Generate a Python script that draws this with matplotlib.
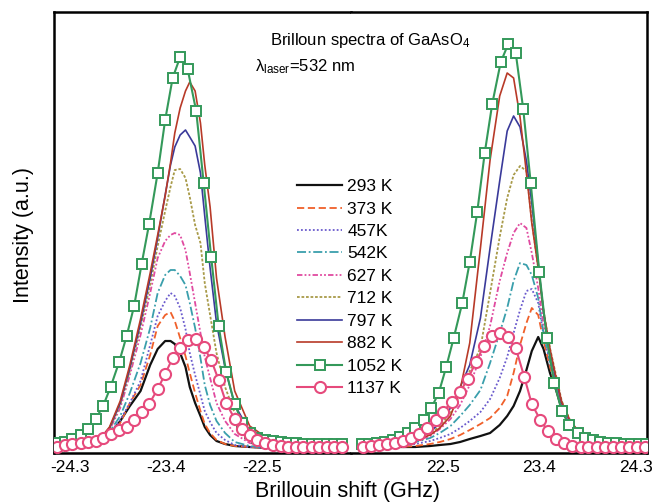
import matplotlib
matplotlib.use("Agg")
from matplotlib import pyplot as plt

plt.rcParams['font.family'] = ['Liberation Sans', 'DejaVu Sans']
plt.rcParams['mathtext.fontset'] = 'custom'
plt.rcParams['mathtext.rm'] = 'Liberation Sans'
plt.rcParams['mathtext.it'] = 'Liberation Sans:italic'

# Brillouin shift grid (GHz) used by the line spectra, anti-Stokes and Stokes side
x_left = [-24.42, -24.21, -24.02, -23.93, -23.83, -23.74, -23.64, -23.55, -23.48, -23.41,
          -23.36, -23.32, -23.27, -23.22, -23.18, -23.13, -23.08, -23.04, -22.99, -22.93,
          -22.85, -22.76, -22.62, -22.43, -22.15, -21.75]
x_right = [21.74, 21.91, 22.10, 22.24, 22.38, 22.47, 22.57, 22.66, 22.75, 22.85,
           22.94, 23.03, 23.10, 23.16, 23.22, 23.28, 23.33, 23.39, 23.44, 23.50,
           23.56, 23.61, 23.69, 23.78, 23.92, 24.11, 24.39]

labels = ["293 K", "373 K", "457K", "542K", "627 K", "712 K", "797 K", "882 K"]

I_left = [
    [5, 7, 11, 18, 32, 47, 62, 88, 104, 112, 112, 109, 100, 86, 66, 50, 37, 26, 18, 12, 9, 7, 6, 5, 5, 5],
    [5, 7, 12, 19, 30, 50, 68, 98, 127, 138, 141, 132, 115, 97, 80, 60, 42, 29, 20, 13, 9, 7, 6, 5, 5, 5],
    [5, 7, 12, 20, 33, 50, 72, 108, 137, 152, 160, 157, 145, 124, 100, 78, 58, 42, 31, 20, 13, 8, 6, 5, 5, 5],
    [5, 8, 13, 21, 37, 60, 90, 125, 160, 178, 183, 183, 177, 168, 150, 125, 95, 68, 48, 32, 20, 11, 7, 5, 5, 5],
    [5, 8, 13, 23, 45, 78, 118, 160, 195, 212, 218, 220, 218, 203, 180, 150, 120, 96, 75, 50, 32, 19, 10, 6, 5, 5],
    [5, 8, 13, 24, 48, 82, 126, 168, 207, 242, 266, 283, 284, 275, 256, 228, 210, 170, 138, 100, 66, 40, 20, 10, 6, 5],
    [5, 8, 14, 25, 50, 85, 130, 175, 215, 258, 288, 306, 318, 323, 316, 307, 280, 237, 185, 130, 85, 48, 22, 11, 6, 5],
    [5, 8, 14, 26, 52, 88, 134, 180, 218, 257, 290, 320, 345, 362, 371, 362, 330, 288, 246, 175, 116, 62, 27, 13, 7, 5],
]
I_right = [
    [5, 5, 6, 6, 7, 8, 9, 11, 14, 17, 20, 28, 37, 47, 62, 83, 102, 116, 104, 80, 62, 44, 26, 16, 11, 8, 6],
    [5, 6, 6, 7, 9, 11, 14, 18, 23, 29, 35, 45, 57, 80, 108, 130, 145, 138, 112, 86, 64, 44, 27, 16, 11, 8, 6],
    [5, 6, 7, 9, 12, 15, 19, 25, 32, 41, 54, 75, 96, 120, 143, 162, 164, 150, 118, 90, 66, 46, 28, 17, 11, 8, 6],
    [5, 6, 8, 11, 15, 20, 27, 37, 48, 63, 90, 120, 145, 172, 190, 188, 178, 155, 120, 92, 68, 47, 29, 18, 11, 8, 6],
    [5, 6, 8, 12, 17, 24, 34, 48, 68, 96, 127, 172, 200, 220, 230, 225, 200, 165, 128, 96, 70, 48, 30, 18, 11, 8, 6],
    [5, 6, 9, 13, 19, 27, 40, 58, 82, 105, 160, 216, 255, 278, 287, 282, 232, 185, 142, 105, 76, 52, 32, 19, 12, 8, 6],
    [5, 6, 9, 14, 21, 30, 45, 66, 88, 135, 205, 272, 322, 337, 326, 292, 250, 190, 140, 102, 72, 50, 31, 19, 12, 8, 6],
    [5, 6, 9, 13, 18, 25, 37, 63, 110, 205, 293, 357, 380, 375, 336, 280, 230, 185, 142, 104, 74, 51, 32, 20, 12, 8, 6],
]

# 1052 K (squares)
sq_x_left = [-24.42, -24.35, -24.28, -24.20, -24.13, -24.06, -23.99, -23.92, -23.84, -23.77,
             -23.70, -23.63, -23.56, -23.48, -23.41, -23.34, -23.27, -23.20, -23.12, -23.05,
             -22.98, -22.91, -22.84, -22.76, -22.69, -22.62, -22.55, -22.48, -22.40, -22.33,
             -22.26, -22.19, -22.12, -22.04, -21.97, -21.90, -21.83, -21.76]
sq_I_left = [10, 11, 14, 18, 24, 34, 47, 66, 91, 117, 147, 189, 229, 280, 333, 375, 396, 384, 342, 270,
             196, 127, 81, 49, 30, 20, 15, 13, 12, 11, 10, 10, 9, 9, 9, 9, 9, 9]
sq_x_right = [21.74, 21.81, 21.88, 21.96, 22.03, 22.10, 22.17, 22.24, 22.32, 22.39,
              22.46, 22.53, 22.60, 22.68, 22.75, 22.82, 22.89, 22.96, 23.04, 23.11,
              23.18, 23.25, 23.32, 23.40, 23.47, 23.54, 23.61, 23.68, 23.76, 23.83,
              23.90, 23.97, 24.04, 24.12, 24.19, 24.26, 24.33, 24.40]
sq_I_right = [9, 9, 10, 11, 13, 16, 20, 25, 33, 45, 60, 86, 115, 150, 191, 241, 300, 349, 391, 409,
              400, 344, 270, 181, 115, 70, 42, 28, 20, 15, 13, 11, 10, 10, 9, 9, 9, 9]

# 1137 K (circles)
ci_x_left = sq_x_left
ci_I_left = [6, 8, 9, 10, 11, 12, 15, 19, 23, 26, 33, 41, 49, 64, 79, 95, 105, 113, 114, 106,
             93, 73, 50, 34, 24, 18, 13, 10, 8, 7, 6, 6, 6, 6, 6, 6, 6, 6]
ci_x_right = [21.75, 21.83, 21.90, 21.98, 22.05, 22.13, 22.20, 22.28, 22.35, 22.43,
              22.50, 22.58, 22.66, 22.73, 22.81, 22.88, 22.96, 23.03, 23.11, 23.18,
              23.26, 23.33, 23.41, 23.48, 23.56, 23.63, 23.71, 23.79, 23.86, 23.94,
              24.01, 24.09, 24.16, 24.24, 24.31, 24.39]
ci_I_right = [6, 7, 8, 9, 10, 12, 15, 19, 25, 33, 41, 51, 61, 74, 91, 107, 117, 120, 116, 105,
              76, 49, 33, 22, 14, 10, 7, 6, 6, 6, 6, 6, 6, 6, 6, 6]

colors = ['#111111', '#f0602a', '#6a5acd', '#3a9fac', '#e04aa0', '#a89a48', '#3a3a9a', '#b83a28']
styles = ['-', (0, (4, 2)), (0, (1, 1.2)), (0, (5, 1.5, 1, 1.5)), (0, (3, 1.2, 1, 1.2, 1, 1.2)),
          (0, (1.5, 1)), '-', '-']
widths = [1.6, 1.3, 1.3, 1.3, 1.3, 1.3, 1.2, 1.2]
sq_color = '#34995a'
ci_color = '#e64a7c'

fig = plt.figure(figsize=(6.52, 5.03), dpi=100)
bottom = 1 - 453 / 503
height = 441 / 503
ax1 = fig.add_axes([54 / 652, bottom, 297 / 652, height])
ax2 = fig.add_axes([351 / 652, bottom, 296 / 652, height], sharey=ax1)

handles = []
for k in range(len(labels)):
    h, = ax1.plot(x_left, I_left[k], color=colors[k], ls=styles[k], lw=widths[k])
    ax2.plot(x_right, I_right[k], color=colors[k], ls=styles[k], lw=widths[k])
    handles.append(h)

h, = ax1.plot(sq_x_left, sq_I_left, color=sq_color, lw=1.5, marker='s', ms=7, mfc='white', mew=1.4, zorder=4)
ax2.plot(sq_x_right, sq_I_right, color=sq_color, lw=1.5, marker='s', ms=7, mfc='white', mew=1.4, zorder=4)
handles.append(h)
labels.append("1052 K")
h, = ax1.plot(ci_x_left, ci_I_left, color=ci_color, lw=1.5, marker='o', ms=8, mfc='white', mew=1.5, zorder=5)
ax2.plot(ci_x_right, ci_I_right, color=ci_color, lw=1.5, marker='o', ms=8, mfc='white', mew=1.5, zorder=5)
handles.append(h)
labels.append("1137 K")

ax1.set_xlim(-24.449, -21.673)
ax2.set_xlim(21.64, 24.407)
ax1.set_ylim(0, 441)

ax1.set_xticks([-24.3, -23.4, -22.5])
ax1.set_xticklabels(["-24.3", "-23.4", "-22.5"])
ax2.set_xticks([22.5, 23.4, 24.3])
ax2.set_xticklabels(["22.5", "23.4", "24.3"])

for ax in (ax1, ax2):
    ax.tick_params(axis='x', length=0, pad=5, labelsize=12.5)
    ax.tick_params(axis='y', left=False, labelleft=False, right=False)
    for s in ax.spines.values():
        s.set_linewidth(1.8)
ax1.spines['right'].set_visible(False)
ax2.spines['left'].set_visible(False)

fig.text(348 / 652, 1 - 491 / 503, "Brillouin shift (GHz)", ha='center', va='center', fontsize=15.5)
fig.text(23 / 652, 1 - 235 / 503, "Intensity (a.u.)", ha='center', va='center', rotation=90, fontsize=15.5)

fig.text(270 / 652, 1 - 40 / 503, "Brilloun spectra of GaAsO$_4$", ha='left', va='center', fontsize=12)
fig.text(255 / 652, 1 - 67 / 503, "λ$_{\\mathregular{laser}}$=532 nm", ha='left', va='center', fontsize=12)

fig.legend(handles, labels, loc='upper left', bbox_to_anchor=(297 / 652, 1 - 179 / 503),
           frameon=False, fontsize=12.5, handlelength=2.6, handletextpad=0.3,
           labelspacing=0.42, borderpad=0, borderaxespad=0)

fig.savefig("out.png", dpi=100)
